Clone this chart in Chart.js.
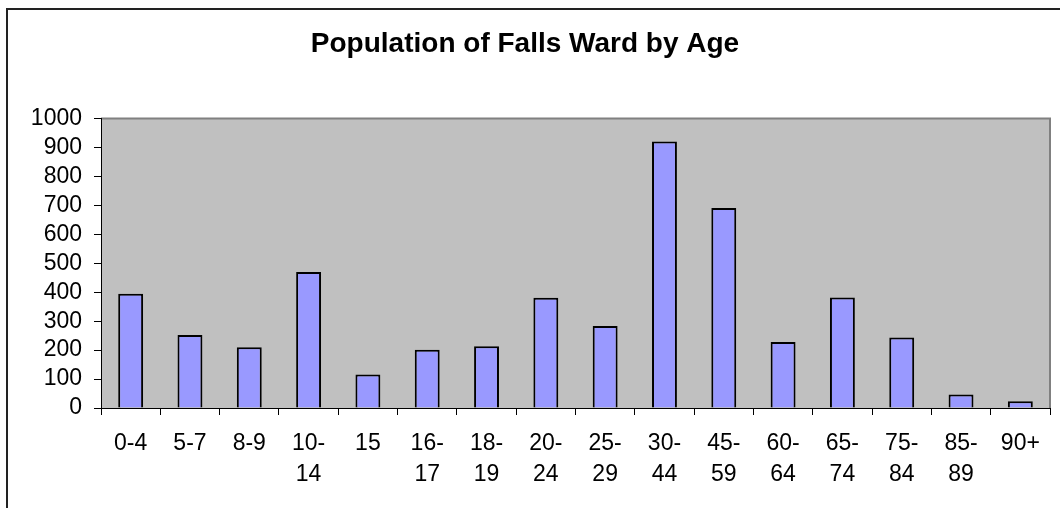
<!DOCTYPE html>
<html>
<head>
<meta charset="utf-8">
<title>Population of Falls Ward by Age</title>
<script src="https://cdn.jsdelivr.net/npm/chart.js@4/dist/chart.umd.min.js"></script>
<style>
  html, body { margin: 0; padding: 0; background: #fff; }
  #wrap { position: relative; width: 1060px; height: 508px; }
</style>
</head>
<body>
<div id="wrap"><canvas id="ageChart"></canvas></div>
<script>
const ageGroups = [
  ['0-4'], ['5-7'], ['8-9'], ['10-', '14'], ['15'], ['16-', '17'], ['18-', '19'],
  ['20-', '24'], ['25-', '29'], ['30-', '44'], ['45-', '59'], ['60-', '64'],
  ['65-', '74'], ['75-', '84'], ['85-', '89'], ['90+']
];
const population = [395, 252, 210, 470, 116, 201, 213, 381, 283, 921, 691, 228, 382, 244, 47, 23];
const yTicks = [0, 100, 200, 300, 400, 500, 600, 700, 800, 900, 1000];

const FONT = "'Liberation Sans', Arial, sans-serif";

// grey plot area, top/right edge and the outer frame
const chartFrame = {
  id: 'chartFrame',
  beforeDraw(chart) {
    const { ctx, chartArea: a } = chart;
    ctx.save();
    ctx.fillStyle = '#c0c0c0';
    ctx.fillRect(a.left, a.top, a.right - a.left, a.bottom - a.top);
    ctx.strokeStyle = '#808080';
    ctx.lineWidth = 2;
    ctx.beginPath();
    ctx.moveTo(a.left, a.top);
    ctx.lineTo(a.right, a.top);
    ctx.lineTo(a.right, a.bottom);
    ctx.stroke();
    ctx.strokeStyle = '#222';
    ctx.lineWidth = 2;
    ctx.beginPath();
    ctx.moveTo(7, 600);
    ctx.lineTo(7, 9);
    ctx.lineTo(1100, 9);
    ctx.stroke();
    ctx.restore();
  }
};

new Chart(document.getElementById('ageChart'), {
  type: 'bar',
  data: {
    labels: ageGroups,
    datasets: [{
      data: population,
      backgroundColor: '#9999ff',
      borderColor: '#000',
      borderWidth: 2,
      barPercentage: 0.42,
      categoryPercentage: 1
    }]
  },
  options: {
    responsive: true,
    maintainAspectRatio: false,
    animation: false,
    layout: { padding: { left: 0, right: 10, top: 0, bottom: 0 } },
    plugins: {
      legend: { display: false },
      tooltip: { enabled: false },
      title: {
        display: true,
        text: 'Population of Falls Ward by Age',
        color: '#000',
        font: { family: FONT, size: 28, weight: 'bold' },
        padding: { top: 27, bottom: 58 }
      }
    },
    scales: {
      x: {
        offset: true,
        grid: {
          offset: true,
          drawOnChartArea: false,
          drawTicks: true,
          tickLength: 7,
          color: '#000'
        },
        border: { color: '#000', width: 1 },
        ticks: {
          color: '#000',
          font: { family: FONT, size: 23, lineHeight: 1.35 },
          padding: 13,
          maxRotation: 0,
          autoSkip: false
        },
        afterFit(scale) { scale.height = 100; }
      },
      y: {
        min: yTicks[0],
        max: yTicks[yTicks.length - 1],
        afterBuildTicks(scale) { scale.ticks = yTicks.map(v => ({ value: v })); },
        grid: {
          drawOnChartArea: false,
          drawTicks: true,
          tickLength: 7,
          color: '#000'
        },
        border: { color: '#000', width: 1 },
        ticks: {
          color: '#000',
          autoSkip: false,
          font: { family: FONT, size: 23 },
          padding: 12,
          callback: v => String(v)
        },
        afterFit(scale) { scale.width = 101; }
      }
    }
  },
  plugins: [chartFrame]
});
</script>
</body>
</html>
